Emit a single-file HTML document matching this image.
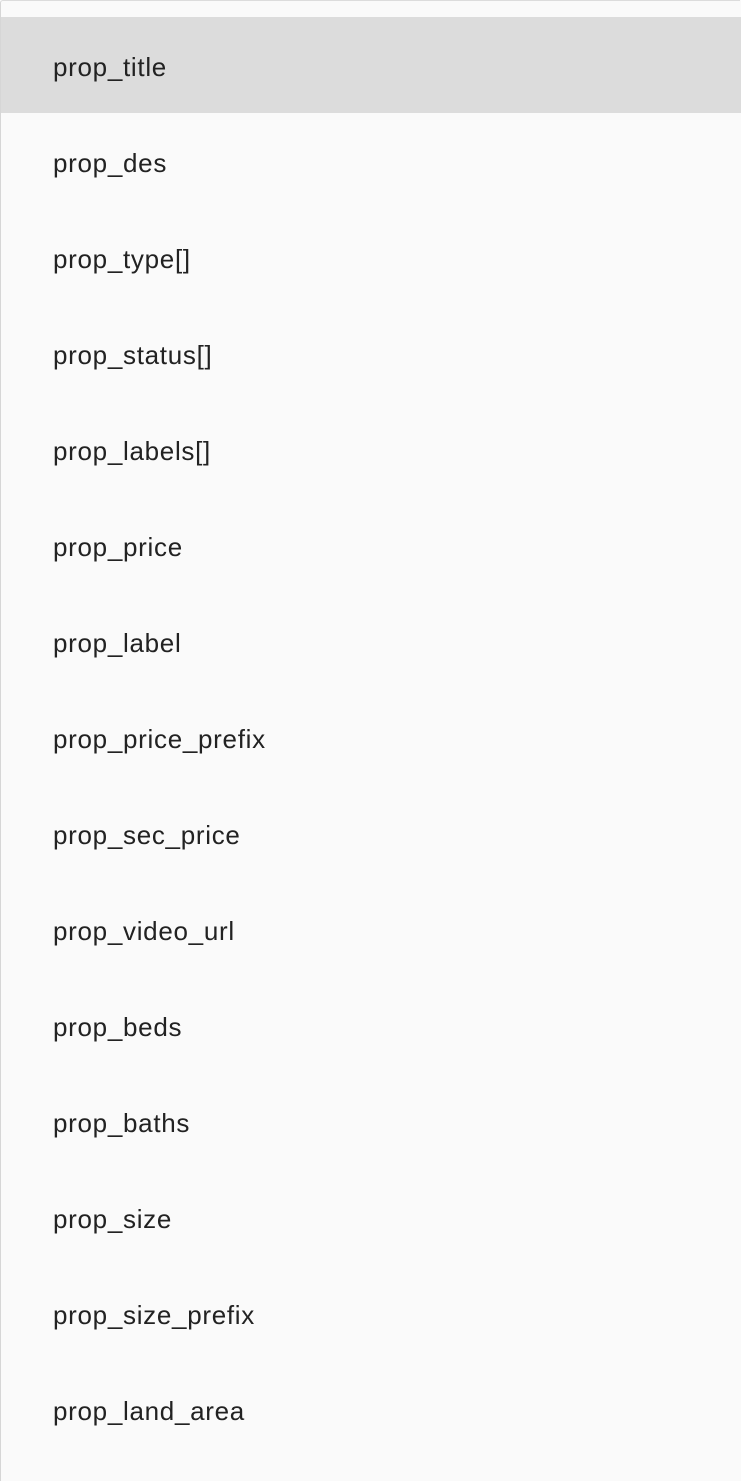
<!DOCTYPE html>
<html><head><style>
html,body{margin:0;padding:0;}
body{width:741px;height:1481px;background:#fafafa;overflow:hidden;position:relative;font-family:"Liberation Sans",sans-serif;}
.frame{position:absolute;left:0;top:0;width:740px;height:1481px;border-left:1px solid #d6d6d6;border-top:1px solid #dcdcdc;border-top-left-radius:3px;box-sizing:border-box;}
.row{position:absolute;left:1px;width:740px;height:96px;line-height:100px;padding-left:52px;box-sizing:border-box;font-size:26px;letter-spacing:0.7px;color:#222;}
.sel{background:#dcdcdc;}
</style></head><body>
<div class="frame"></div>
<div class="row sel" style="top:17px">prop_title</div>
<div class="row" style="top:113px">prop_des</div>
<div class="row" style="top:209px">prop_type[]</div>
<div class="row" style="top:305px">prop_status[]</div>
<div class="row" style="top:401px">prop_labels[]</div>
<div class="row" style="top:497px">prop_price</div>
<div class="row" style="top:593px">prop_label</div>
<div class="row" style="top:689px">prop_price_prefix</div>
<div class="row" style="top:785px">prop_sec_price</div>
<div class="row" style="top:881px">prop_video_url</div>
<div class="row" style="top:977px">prop_beds</div>
<div class="row" style="top:1073px">prop_baths</div>
<div class="row" style="top:1169px">prop_size</div>
<div class="row" style="top:1265px">prop_size_prefix</div>
<div class="row" style="top:1361px">prop_land_area</div>
</body></html>
